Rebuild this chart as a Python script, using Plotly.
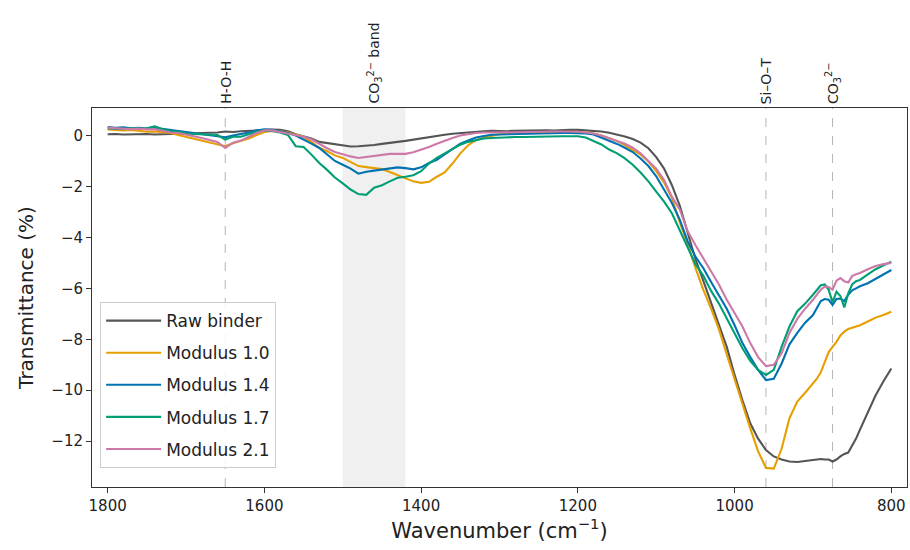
import plotly.graph_objects as go

wavenumber = [1800, 1790, 1780, 1770, 1760, 1750, 1740, 1730, 1720, 1710,
              1700, 1690, 1680, 1670, 1660, 1650, 1640, 1630, 1620, 1610,
              1600, 1590, 1580, 1570, 1560, 1550, 1540, 1530, 1520, 1510,
              1500, 1490, 1480, 1470, 1460, 1450, 1440, 1430, 1420, 1410,
              1400, 1390, 1380, 1370, 1360, 1350, 1340, 1330, 1320, 1310,
              1300, 1290, 1280, 1270, 1260, 1250, 1240, 1230, 1220, 1210,
              1200, 1190, 1180, 1170, 1160, 1150, 1140, 1130, 1120, 1110,
              1100, 1090, 1080, 1070, 1060, 1050, 1040, 1030, 1020, 1010,
              1000, 990, 980, 970, 960, 950, 940, 930, 920, 910,
              900, 895, 890, 885, 880, 875, 870, 865, 860, 855, 850, 845, 840,
              830, 820, 810, 800]

raw_binder = [0.05, 0.06, 0.04, 0.05, 0.04, 0.06, 0.04, 0.05, 0.06, 0.06,
              0.08, 0.09, 0.10, 0.11, 0.12, 0.16, 0.14, 0.17, 0.19, 0.20,
              0.22, 0.23, 0.22, 0.17, 0.05, -0.03, -0.12, -0.25, -0.30, -0.35,
              -0.38, -0.43, -0.42, -0.40, -0.37, -0.33, -0.30, -0.25, -0.21, -0.16,
              -0.11, -0.06, 0.00, 0.03, 0.07, 0.10, 0.13, 0.16, 0.17, 0.18,
              0.17, 0.17, 0.18, 0.19, 0.18, 0.20, 0.20, 0.19, 0.21, 0.22,
              0.22, 0.21, 0.19, 0.16, 0.11, 0.04, -0.04, -0.14, -0.28, -0.50,
              -0.85, -1.30, -1.95, -2.75, -3.85, -4.85, -5.70, -6.55, -7.40, -8.30,
              -9.40, -10.40, -11.30, -11.90, -12.35, -12.60, -12.72, -12.80, -12.82, -12.78,
              -12.72, -12.70, -12.70, -12.72, -12.72, -12.80, -12.72, -12.60, -12.50, -12.45, -12.20, -11.90, -11.55,
              -10.85, -10.20, -9.65, -9.15]

modulus_1_0 = [0.24, 0.22, 0.20, 0.22, 0.18, 0.15, 0.16, 0.12, 0.10, 0.02,
               -0.05, -0.12, -0.20, -0.27, -0.33, -0.42, -0.30, -0.22, -0.12, 0.02,
               0.14, 0.18, 0.17, 0.12, 0.04, -0.05, -0.25, -0.48, -0.62, -0.78,
               -0.88, -1.05, -1.20, -1.24, -1.27, -1.32, -1.43, -1.55, -1.68, -1.80,
               -1.86, -1.82, -1.62, -1.45, -1.10, -0.70, -0.38, -0.18, -0.08, 0.00,
               0.05, 0.08, 0.10, 0.10, 0.12, 0.12, 0.13, 0.12, 0.14, 0.15,
               0.15, 0.12, 0.08, 0.00, -0.12, -0.22, -0.38, -0.55, -0.75, -1.02,
               -1.40, -1.85, -2.45, -3.40, -4.25, -5.20, -6.05, -6.80, -7.60, -8.60,
               -9.60, -10.50, -11.50, -12.40, -13.05, -13.08, -12.30, -11.10, -10.45, -10.10,
               -9.75, -9.55, -9.30, -8.90, -8.50, -8.30, -8.10, -7.85, -7.70, -7.60, -7.55, -7.50, -7.45,
               -7.30, -7.15, -7.05, -6.92]

modulus_1_4 = [0.33, 0.30, 0.32, 0.28, 0.30, 0.27, 0.30, 0.26, 0.20, 0.18,
               0.12, 0.10, 0.05, 0.02, -0.03, -0.07, 0.00, 0.05, 0.12, 0.20,
               0.24, 0.22, 0.17, 0.10, 0.00, -0.15, -0.32, -0.49, -0.75, -1.00,
               -1.15, -1.30, -1.50, -1.42, -1.38, -1.34, -1.28, -1.25, -1.28, -1.33,
               -1.25, -1.08, -0.95, -0.75, -0.52, -0.32, -0.20, -0.08, -0.02, 0.03,
               0.04, 0.05, 0.06, 0.06, 0.07, 0.08, 0.08, 0.09, 0.10, 0.10,
               0.10, 0.08, 0.04, -0.08, -0.20, -0.33, -0.48, -0.65, -0.90, -1.20,
               -1.60, -2.10, -2.65, -3.30, -4.15, -4.75, -5.20, -5.75, -6.25, -6.80,
               -7.45, -8.15, -8.70, -9.20, -9.60, -9.55, -8.95, -8.20, -7.75, -7.35,
               -7.05, -6.80, -6.50, -6.42, -6.45, -6.65, -6.42, -6.40, -6.50, -6.25, -6.08, -6.00, -5.92,
               -5.80, -5.62, -5.45, -5.28]

modulus_1_7 = [0.28, 0.27, 0.25, 0.28, 0.26, 0.28, 0.36, 0.25, 0.18, 0.15,
               0.08, 0.06, 0.04, 0.03, 0.02, -0.16, -0.05, -0.05, 0.05, 0.15,
               0.20, 0.18, 0.12, 0.02, -0.42, -0.45, -0.75, -1.08, -1.35, -1.65,
               -1.88, -2.12, -2.30, -2.33, -2.05, -1.95, -1.80, -1.66, -1.62, -1.56,
               -1.40, -1.10, -0.88, -0.70, -0.52, -0.36, -0.25, -0.17, -0.12, -0.10,
               -0.08, -0.07, -0.06, -0.06, -0.05, -0.04, -0.04, -0.03, -0.03, -0.03,
               -0.03, -0.08, -0.20, -0.35, -0.55, -0.70, -0.90, -1.15, -1.45, -1.80,
               -2.20, -2.60, -3.05, -3.70, -4.40, -5.05, -5.50, -6.10, -6.60, -7.20,
               -7.80, -8.35, -8.85, -9.20, -9.40, -9.20, -8.30, -7.50, -6.90, -6.60,
               -6.25, -6.05, -5.88, -5.85, -6.05, -6.55, -6.13, -6.30, -6.75, -6.20, -5.85, -5.72, -5.67,
               -5.45, -5.25, -5.10, -4.95]

modulus_2_1 = [0.30, 0.28, 0.27, 0.25, 0.27, 0.24, 0.25, 0.18, 0.12, 0.10,
               0.02, -0.03, -0.10, -0.18, -0.25, -0.49, -0.28, -0.20, -0.05, 0.10,
               0.20, 0.20, 0.14, 0.08, 0.02, -0.05, -0.15, -0.33, -0.50, -0.65,
               -0.75, -0.82, -0.88, -0.84, -0.78, -0.74, -0.72, -0.72, -0.72, -0.66,
               -0.56, -0.45, -0.32, -0.20, -0.10, 0.00, 0.06, 0.10, 0.12, 0.13,
               0.12, 0.13, 0.13, 0.14, 0.14, 0.15, 0.15, 0.16, 0.16, 0.16,
               0.15, 0.12, 0.08, 0.00, -0.10, -0.20, -0.32, -0.48, -0.70, -1.00,
               -1.30, -1.75, -2.40, -2.90, -3.75, -4.30, -4.80, -5.35, -5.85, -6.45,
               -6.95, -7.50, -8.15, -8.70, -9.05, -9.00, -8.55, -7.75, -7.20, -6.80,
               -6.45, -6.25, -6.05, -5.93, -5.95, -6.05, -5.70, -5.60, -5.72, -5.77, -5.52, -5.45, -5.40,
               -5.25, -5.12, -5.05, -5.00]

series_names = ["Raw binder", "Modulus 1.0", "Modulus 1.4", "Modulus 1.7", "Modulus 2.1"]
series_values = [raw_binder, modulus_1_0, modulus_1_4, modulus_1_7, modulus_2_1]
series_colors = ["#555555", "#E69F00", "#0072B2", "#009E73", "#CC79A7"]

marker_positions = [1650, 960, 875]
marker_labels = ["H-O-H", "Si–O–T", "CO<sub>3</sub><sup>2−</sup>"]
band_range = [1500, 1420]
band_label = "CO<sub>3</sub><sup>2−</sup> band"

FONT = "DejaVu Sans"

fig = go.Figure()
for i, (name, vals, col) in enumerate(zip(series_names, series_values, series_colors)):
    fig.add_trace(go.Scatter(x=wavenumber, y=vals, mode="lines", name=name,
                             legendgroup=f"g{i}",
                             line=dict(color=col, width=2.1)))

fig.add_shape(type="rect", xref="x", yref="paper", x0=band_range[0], x1=band_range[1],
              y0=0, y1=1, fillcolor="rgba(128,128,128,0.12)", line=dict(width=0), layer="below")
for xp in marker_positions:
    fig.add_shape(type="line", xref="x", yref="paper", x0=xp, x1=xp, y0=0, y1=1,
                  line=dict(color="#b5b5b5", width=1, dash="dash"), layer="below")

for xp, lab in zip(marker_positions, marker_labels):
    fig.add_annotation(x=xp, y=1, xref="x", yref="paper", text=lab, showarrow=False,
                       textangle=-90, xanchor="center", yanchor="bottom", yshift=2,
                       font=dict(family=FONT, size=14, color="#222222"))
fig.add_annotation(x=(band_range[0] + band_range[1]) / 2, y=1, xref="x", yref="paper",
                   text=band_label, showarrow=False, textangle=-90,
                   xanchor="center", yanchor="bottom", yshift=2,
                   font=dict(family=FONT, size=14, color="#222222"))

fig.update_layout(
    width=910, height=550,
    margin=dict(l=92, r=3, t=108, b=63),
    paper_bgcolor="white", plot_bgcolor="white",
    font=dict(family=FONT, size=15, color="#222222"),
    showlegend=True,
    legend=dict(x=0.01, y=0.05, xanchor="left", yanchor="bottom",
                bgcolor="rgba(255,255,255,0.85)", bordercolor="#cccccc", borderwidth=1,
                font=dict(family=FONT, size=17, color="#222222"),
                traceorder="grouped", tracegroupgap=7, itemwidth=55),
)
fig.update_xaxes(range=[1820, 780], tickvals=[1800, 1600, 1400, 1200, 1000, 800],
                 ticks="outside", ticklen=5, tickwidth=1, tickcolor="#333333",
                 showline=True, linecolor="#333333", linewidth=1, mirror=True,
                 showgrid=False, zeroline=False,
                 tickfont=dict(family=FONT, size=15),
                 title=dict(text="Wavenumber (cm<sup>−1</sup>)", font=dict(family=FONT, size=21), standoff=6))
fig.update_yaxes(range=[-13.8, 1.08], tickvals=[0, -2, -4, -6, -8, -10, -12],
                 ticks="outside", ticklen=5, tickwidth=1, tickcolor="#333333",
                 showline=True, linecolor="#333333", linewidth=1, mirror=True,
                 showgrid=False, zeroline=False,
                 tickfont=dict(family=FONT, size=15),
                 title=dict(text="Transmittance (%)", font=dict(family=FONT, size=20), standoff=12))

fig.write_html("out.html")
